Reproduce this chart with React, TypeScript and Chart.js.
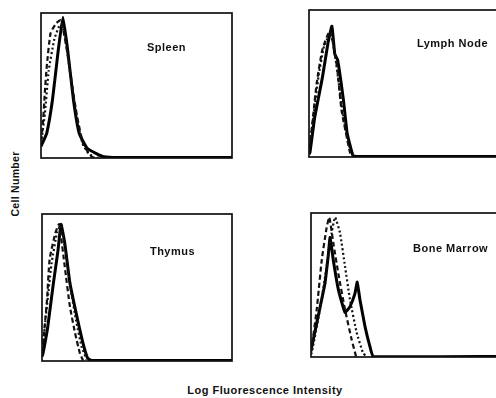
import React, { useEffect, useRef } from "react";
import { Chart, registerables } from "chart.js";

Chart.register(...registerables);

// Panel titles
const panelTitles = ["Spleen", "Lymph Node", "Thymus", "Bone Marrow"];
const yAxisTitle = "Cell Number";
const xAxisTitle = "Log Fluorescence Intensity";

// Histogram series: [log fluorescence channel (0-100), relative cell number (0-100)]
const spleenSolid = [[0, 8], [1, 11], [3, 17], [6, 40], [9, 74], [11.5, 97], [14, 74], [17, 40], [20, 17], [24, 7], [29, 3], [33, 0.8], [40, 0.3], [100, 0.3]];
const spleenDashed = [[0, 12], [0.8, 20], [2, 45], [3, 63], [5, 86], [8, 93], [10.5, 95], [13.6, 74], [16, 52], [19, 28], [22, 10], [24.6, 4], [27, 0.5], [30, 0.3]];
const spleenDotted = [[0, 10], [2, 30], [4, 60], [7, 82], [10, 92], [12, 88], [14, 72], [16.5, 48], [19, 25], [22, 9], [25, 3], [28, 0.5]];

const lymphSolid = [[0, 2], [0.5, 3], [3, 27], [7, 54], [10, 78], [12, 89], [13.5, 70], [15, 66], [18, 39], [20, 16], [23, 1], [25, 0.3], [100, 0.3]];
const lymphDashed = [[0, 6], [1.5, 20], [4, 50], [7, 73], [11, 86], [14.7, 61], [17, 32], [20, 12], [21.5, 3], [23, 0.3]];
const lymphDotted = [[0, 4], [2, 24], [5, 55], [8, 76], [11.5, 84], [14, 66], [17, 36], [19.5, 16], [22, 3], [23.5, 0.3]];

const thymusSolid = [[0, 3], [0.5, 5], [3, 23], [6, 53], [8.4, 75], [10, 93], [12, 80], [14.7, 53], [18.4, 30], [21.6, 12], [24, 2], [26, 0.4], [100, 0.4]];
const thymusDashed = [[0, 6], [0.5, 11], [2.6, 41], [4, 69], [7, 87], [9, 93], [12, 64], [14.7, 37], [17.4, 19], [20, 5], [21.6, 0.4]];
const thymusDotted = [[0, 5], [2, 30], [5, 66], [8, 88], [10, 92], [12.5, 74], [15, 50], [18, 27], [21, 9], [23.5, 1]];

const marrowSolid = [[0, 4], [0.4, 7], [3.7, 28], [7.3, 51], [9, 70], [10, 83], [11.7, 67], [14.3, 47], [17.8, 31], [20.4, 35], [23, 44], [24.2, 52], [25.6, 40], [28.3, 21], [30.9, 7], [32.6, 0.4], [100, 0.4]];
const marrowDashed = [[0, 4], [0.4, 7], [3, 33], [5.6, 67], [8.2, 90], [9.6, 97], [11.7, 79], [14.3, 58], [17.8, 33], [21.3, 12], [23.6, 0.3]];
const marrowDotted = [[0, 2], [0.4, 3], [4.7, 33], [8.2, 63], [10.8, 86], [12.6, 97], [15.2, 86], [17.8, 63], [20.4, 40], [23.9, 17], [27.2, 3], [29, 0.3]];

const panelSeries = [
  [spleenSolid, spleenDashed, spleenDotted],
  [lymphSolid, lymphDashed, lymphDotted],
  [thymusSolid, thymusDashed, thymusDotted],
  [marrowSolid, marrowDashed, marrowDotted],
];

// Layout (page pixels) of each panel frame
const panelLayout = [
  { left: 41, top: 13, width: 191, height: 145, labelX: 55.5, labelY: 76 },
  { left: 309, top: 10, width: 191, height: 147, labelX: 56.5, labelY: 77 },
  { left: 42, top: 214, width: 190, height: 147, labelX: 56.8, labelY: 74 },
  { left: 311, top: 213, width: 191, height: 144, labelX: 53.4, labelY: 75 },
];

const PAD = 4;
const FONT = '"Liberation Sans", Arial, Helvetica, sans-serif';

const frameLabelPlugin = {
  id: "frameLabel",
  afterDatasetsDraw(chart: any, _args: any, opts: any) {
    const { ctx, chartArea } = chart;
    const { left, top, right, bottom } = chartArea;
    ctx.save();
    ctx.strokeStyle = "#111";
    ctx.lineWidth = 1.7;
    ctx.strokeRect(left, top, right - left, bottom - top);
    ctx.font = `bold 11px ${FONT}`;
    try {
      (ctx as any).letterSpacing = "0.5px";
    } catch (e) {}
    ctx.fillStyle = "#111";
    ctx.textAlign = "left";
    ctx.textBaseline = "middle";
    ctx.fillText(opts.text, chart.scales.x.getPixelForValue(opts.x), chart.scales.y.getPixelForValue(opts.y));
    ctx.restore();
  },
};

function Panel({ index }: { index: number }) {
  const ref = useRef<HTMLCanvasElement | null>(null);
  const lay = panelLayout[index];
  useEffect(() => {
    if (!ref.current) return;
    const [solid, dashed, dotted] = panelSeries[index];
    const toPts = (arr: number[][]) => arr.map(([x, y]) => ({ x, y }));
    const chart = new Chart(ref.current, {
      type: "line",
      data: {
        datasets: [
          {
            label: "dotted",
            data: toPts(dotted),
            borderColor: "#111",
            borderWidth: 2.2,
            borderDash: [2, 2.5],
            pointRadius: 0,
            tension: 0.15,
            fill: false,
          },
          {
            label: "dashed",
            data: toPts(dashed),
            borderColor: "#111",
            borderWidth: 2.2,
            borderDash: [5, 3],
            pointRadius: 0,
            tension: 0.15,
            fill: false,
          },
          {
            label: "solid",
            data: toPts(solid),
            borderColor: "#000",
            borderWidth: 3,
            pointRadius: 0,
            tension: 0.12,
            fill: false,
          },
        ],
      },
      options: {
        responsive: false,
        animation: false,
        events: [],
        layout: { padding: PAD },
        plugins: {
          legend: { display: false },
          tooltip: { enabled: false },
          frameLabel: { text: panelTitles[index], x: lay.labelX, y: lay.labelY },
        } as any,
        scales: {
          x: { type: "linear", min: 0, max: 100, display: false },
          y: { type: "linear", min: 0, max: 100, display: false },
        },
      },
      plugins: [frameLabelPlugin],
    });
    return () => chart.destroy();
  }, [index]);
  return (
    <canvas
      ref={ref}
      width={lay.width + PAD * 2}
      height={lay.height + PAD * 2}
      style={{
        position: "absolute",
        left: lay.left - PAD,
        top: lay.top - PAD,
        width: lay.width + PAD * 2,
        height: lay.height + PAD * 2,
      }}
    />
  );
}

export default function App() {
  return (
    <div
      style={{
        position: "absolute",
        left: 0,
        top: 0,
        width: 496,
        height: 398,
        overflow: "hidden",
        background: "#fff",
        fontFamily: FONT,
      }}
    >
      {panelLayout.map((_, i) => (
        <Panel key={i} index={i} />
      ))}
      <div
        style={{
          position: "absolute",
          left: 15,
          top: 184,
          transform: "translate(-50%, -50%) rotate(-90deg)",
          whiteSpace: "nowrap",
          fontSize: 10.5,
          letterSpacing: "0.3px",
          fontWeight: "bold",
          color: "#111",
        }}
      >
        {yAxisTitle}
      </div>
      <div
        style={{
          position: "absolute",
          left: 265,
          top: 390,
          transform: "translate(-50%, -50%)",
          whiteSpace: "nowrap",
          fontSize: 11,
          letterSpacing: "0.5px",
          fontWeight: "bold",
          color: "#111",
        }}
      >
        {xAxisTitle}
      </div>
    </div>
  );
}
